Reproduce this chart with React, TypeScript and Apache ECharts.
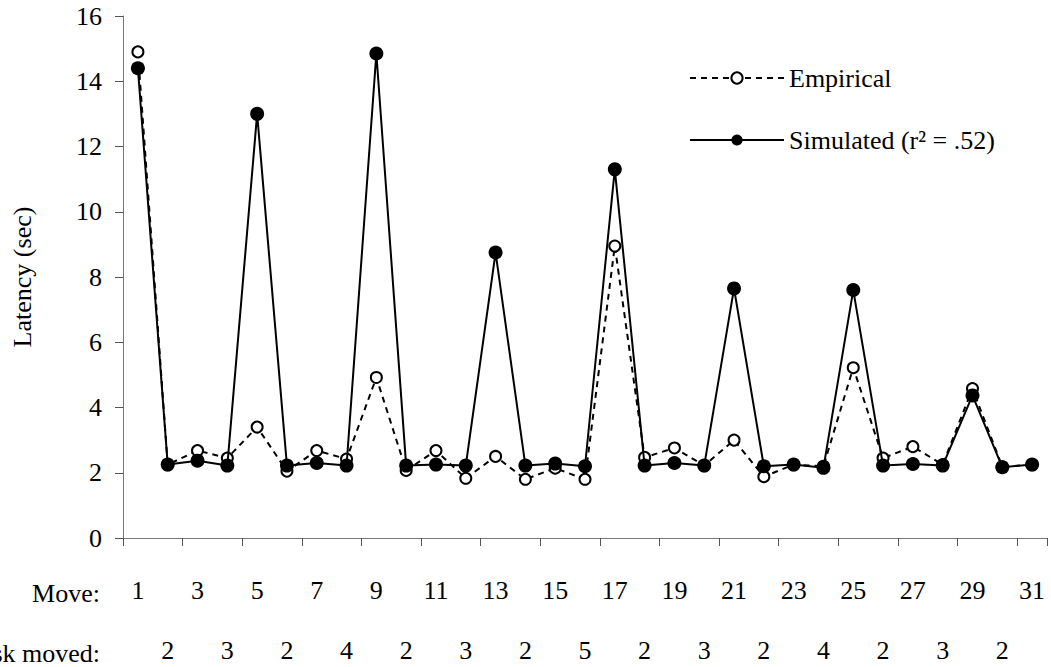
import React, { useEffect, useRef } from "react";
import * as echarts from "echarts";

const moves = Array.from({ length: 31 }, (_, i) => String(i + 1));
const empirical = [14.9, 2.25, 2.68, 2.45, 3.4, 2.05, 2.68, 2.42, 4.92, 2.07, 2.68, 1.83, 2.5, 1.8, 2.14, 1.8, 8.95, 2.47, 2.76, 2.22, 3.0, 1.88, 2.25, 2.2, 5.22, 2.45, 2.8, 2.25, 4.58, 2.18, 2.25];
const simulated = [14.4, 2.25, 2.37, 2.22, 13.0, 2.22, 2.3, 2.22, 14.85, 2.22, 2.25, 2.22, 8.75, 2.22, 2.28, 2.2, 11.3, 2.22, 2.3, 2.22, 7.65, 2.2, 2.25, 2.15, 7.6, 2.22, 2.27, 2.22, 4.37, 2.17, 2.25];
// disk moved at moves 2,4,...,30
const diskMoved = [2, 3, 2, 4, 2, 3, 2, 5, 2, 3, 2, 4, 2, 3, 2];
const yTicks = [0, 2, 4, 6, 8, 10, 12, 14, 16];

const FONT = "Liberation Serif";
const FS = 26;

export default function App() {
  const ref = useRef<HTMLDivElement>(null);
  useEffect(() => {
    if (!ref.current) return;
    const chart = echarts.init(ref.current, undefined, { renderer: "svg" });
    chart.setOption({
      animation: false,
      backgroundColor: "#ffffff",
      textStyle: { fontFamily: FONT, color: "#000" },
      grid: { left: 123, right: 4, top: 16, bottom: 129 },
      legend: {
        orient: "vertical",
        left: 684,
        top: 60,
        itemWidth: 94,
        itemHeight: 14,
        itemGap: 36,
        textStyle: { fontFamily: FONT, fontSize: FS, color: "#000" },
        data: ["Empirical", "Simulated (r² = .52)"],
      },
      xAxis: [
        {
          type: "category",
          data: moves,
          boundaryGap: true,
          axisLine: { lineStyle: { color: "#777", width: 1 } },
          axisTick: { show: true, length: 8, lineStyle: { color: "#555" } },
          axisLabel: {
            interval: (idx: number) => idx % 2 === 0,
            margin: 39,
            fontFamily: FONT,
            fontSize: FS,
            color: "#000",
          },
        },
        {
          type: "category",
          data: moves,
          position: "bottom",
          boundaryGap: true,
          axisLine: { show: false },
          axisTick: { show: false },
          axisLabel: {
            interval: (idx: number) => idx % 2 === 1,
            formatter: (_v: string, idx: number) => String(diskMoved[(idx - 1) / 2] ?? ""),
            margin: 99,
            fontFamily: FONT,
            fontSize: FS,
            color: "#000",
          },
        },
      ],
      yAxis: {
        type: "value",
        min: 0,
        max: 16,
        interval: 2,
        name: "Latency (sec)",
        nameLocation: "middle",
        nameGap: 88,
        nameTextStyle: { fontFamily: FONT, fontSize: FS, color: "#000" },
        axisLine: { show: true, lineStyle: { color: "#777", width: 1 } },
        axisTick: { show: true, length: 8, lineStyle: { color: "#555" } },
        splitLine: { show: false },
        axisLabel: {
          margin: 21,
          fontFamily: FONT,
          fontSize: FS,
          color: "#000",
          formatter: (v: number) => (yTicks.includes(v) ? String(v) : ""),
        },
      },
      graphic: [
        {
          type: "text",
          x: 100,
          y: 593,
          style: { text: "Move:", fontFamily: FONT, fontSize: FS, fill: "#000", align: "right", verticalAlign: "middle" },
        },
        {
          type: "text",
          x: 100,
          y: 653,
          style: { text: "Disk moved:", fontFamily: FONT, fontSize: FS, fill: "#000", align: "right", verticalAlign: "middle" },
        },
      ],
      series: [
        {
          name: "Empirical",
          type: "line",
          data: empirical,
          symbol: "circle",
          symbolSize: 11,
          lineStyle: { color: "#000", width: 2, type: [6, 5] },
          itemStyle: { color: "#fff", borderColor: "#000", borderWidth: 2 },
          z: 2,
        },
        {
          name: "Simulated (r² = .52)",
          type: "line",
          data: simulated,
          symbol: "circle",
          symbolSize: 14,
          lineStyle: { color: "#000", width: 2 },
          itemStyle: { color: "#000", borderColor: "#000", borderWidth: 0 },
          z: 3,
        },
      ],
    });
    return () => chart.dispose();
  }, []);
  return (
    <div
      ref={ref}
      style={{ position: "fixed", left: 0, top: 0, width: 1051, height: 667, background: "#fff" }}
    />
  );
}
